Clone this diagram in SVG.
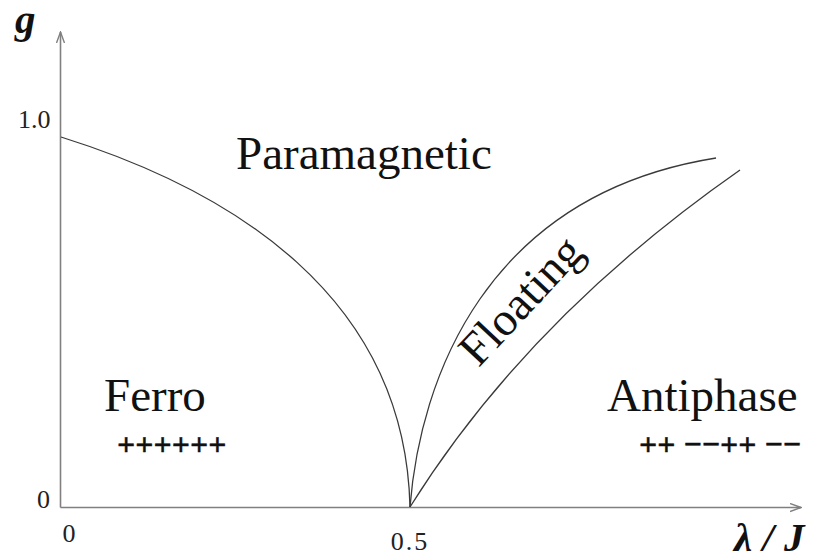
<svg xmlns="http://www.w3.org/2000/svg" width="830" height="556" viewBox="0 0 830 556">
<style>
.axis{fill:none;stroke:#808080;stroke-width:1.6}
.curve{fill:none;stroke:#3a3a3a;stroke-width:1.3}
.lbl{font-family:"Liberation Serif","Times New Roman",serif;fill:#111}
.big{font-size:47px}
.tick{font-size:26px;fill:#222}
.sign{font-size:32px;font-weight:bold;stroke:#111;stroke-width:0.4}
.var{font-weight:bold;font-style:italic;font-size:41px}
</style>
<defs>
<marker id="arr" viewBox="0 0 12 10" refX="11" refY="5" markerWidth="12" markerHeight="10" markerUnits="userSpaceOnUse" orient="auto">
<path d="M0,1 L11,5 L0,9" fill="none" stroke="#808080" stroke-width="1.4"/>
</marker>
</defs>
<g id="axes">
<path class="axis" d="M60.5,507.5 L60.5,32" marker-end="url(#arr)"/>
<path class="axis" d="M60.5,507.5 L801,507.5" marker-end="url(#arr)"/>
</g>
<g id="connectors">
<path class="curve" d="M61,137 C230,190 405,295 410,507"/>
<path class="curve" d="M410,507 C420,380 485,195 716,158"/>
<path class="curve" d="M410,507 Q528,318 740,170"/>
</g>
<g id="labels">
<text class="lbl var" x="15" y="33">g</text>
<text class="lbl var" x="734" y="551">λ / J</text>
<text class="lbl tick" x="18" y="128">1.0</text>
<text class="lbl tick" x="37" y="508">0</text>
<text class="lbl tick" x="69" y="542" text-anchor="middle">0</text>
<text class="lbl tick" x="410" y="550" text-anchor="middle" letter-spacing="2">0.5</text>
</g>
<g id="paramagnetic"><text class="lbl big" x="236" y="169">Paramagnetic</text></g>
<g id="ferro">
<text class="lbl big" x="104" y="411">Ferro</text>
<text class="lbl sign" x="117" y="455">++++++</text>
</g>
<g id="antiphase">
<text class="lbl big" x="607" y="411">Antiphase</text>
<text class="lbl sign" x="639" y="455" xml:space="preserve">++ −−++ −−</text>
</g>
<g id="floating"><text class="lbl big" transform="translate(532,311) rotate(-47)" text-anchor="middle">Floating</text></g>
</svg>
